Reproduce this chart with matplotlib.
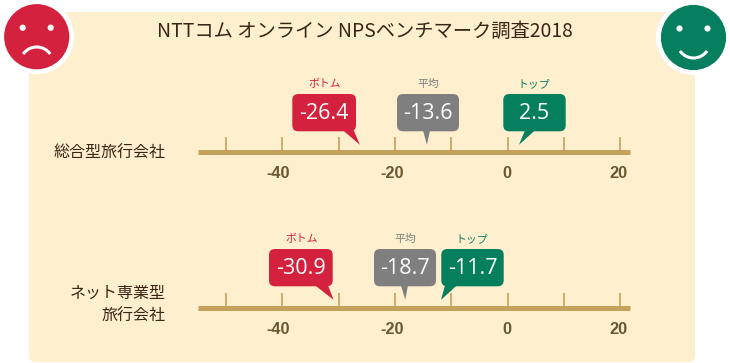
import matplotlib
matplotlib.use('Agg')
import matplotlib.pyplot as plt
from matplotlib.patches import FancyBboxPatch, Polygon, Circle, Arc

plt.rcParams['font.family'] = ['Noto Sans CJK JP', 'DejaVu Sans']

# data
title = 'NTTコム オンライン NPSベンチマーク調査2018'
row_labels = ['総合型旅行会社', 'ネット専業型\n旅行会社']
bubble_names = ['ボトム', '平均', 'トップ']
values_row1 = [-26.4, -13.6, 2.5]
values_row2 = [-30.9, -18.7, -11.7]
tick_values = [-50, -40, -30, -20, -10, 0, 10, 20]
tick_labels = [-40, -20, 0, 20]

# colours
RED = '#D4213D'
GRAY = '#7F7F7F'
GREEN = '#057F5E'
PANEL = '#FEEFCF'
BAR = '#C4A25C'
DARK = '#3C2415'
TICKTXT = '#6B5730'
bubble_colors = [RED, GRAY, GREEN]

# layout, all in pixels of the 730x363 picture
W, H = 730, 363
axis_y = [151.5, 307.7]
box_top = [94, 249]
box_h = 37.3
box_left = [[292.3, 397, 503.3], [269, 374, 441.3]]
box_w = [63.7, 62, 62.4]
tail_base = [[(343, 353.7), (423, 430), (525, 535)],
             [(315, 328), (401, 408), (445, 457)]]
tip_nudge = [[1, -4, -2.6], [0, 3, -0.6]]
name_x = [[325, 428, 534], [301.7, 405, 472]]
tick_label_nudge = [-0.8, -0.5, -0.1, -0.3]

fig = plt.figure(figsize=(W / 100, H / 100), dpi=100)

# pixel layer for panel, faces and bubbles
deco = fig.add_axes([0, 0, 1, 1], zorder=1)
deco.set_xlim(0, W)
deco.set_ylim(H, 0)
deco.axis('off')

# NPS scale: 5.63 px per point, zero at px 507.5
ax = fig.add_axes([0, 0, 1, 1], zorder=2)
ax.set_xlim(-507.5 / 5.63, (W - 507.5) / 5.63)
ax.set_ylim(H, 0)
ax.axis('off')
ax.patch.set_alpha(0)

top = fig.add_axes([0, 0, 1, 1], zorder=3)
top.set_xlim(0, W)
top.set_ylim(H, 0)
top.axis('off')
top.patch.set_alpha(0)

deco.add_patch(FancyBboxPatch((35, 18), 654, 338, boxstyle='round,pad=6,rounding_size=6',
                              fc=PANEL, ec='none'))

# faces
for cx, cy, col in [(36.7, 36.7, RED), (693.5, 37.5, GREEN)]:
    deco.add_patch(Circle((cx, cy), 37.5, fc='white', ec='none', zorder=3))
    deco.add_patch(Circle((cx, cy), 32.6, fc=col, ec='none', zorder=4))
    for dx in (-14, 14):
        deco.add_patch(Circle((cx + dx, cy - 9), 3.1, fc='white', ec='none', zorder=5))
deco.add_patch(Arc((36.7, 63.5), 33, 33, theta1=215, theta2=325, ec='white', lw=2.2, zorder=5))
deco.add_patch(Arc((693.5, 41.5), 33, 33, theta1=35, theta2=145, ec='white', lw=2.2, zorder=5))

deco.text(365, 31, title, ha='center', va='center', fontsize=13.9, color=DARK)

deco.text(166, 153.5, row_labels[0], ha='right', va='center', fontsize=11.5, color=DARK)
deco.text(166, 304.5, row_labels[1], ha='right', va='center', fontsize=11.5, color=DARK,
          linespacing=1.45)

for r, (y, vals) in enumerate(zip(axis_y, [values_row1, values_row2])):
    # number line
    ax.hlines(y, -55.0, 21.7, color=BAR, lw=3.6)
    ax.vlines(tick_values, y - 14.5, y, color=BAR, lw=1.2)
    for t, n in zip(tick_labels, tick_label_nudge):
        ax.text(t + n, y + 21.5, str(t), ha='center', va='center',
                fontsize=11.8, fontweight='bold', color=TICKTXT, family='Liberation Sans')

    # bubbles
    for i, v in enumerate(vals):
        left = box_left[r][i]
        bt = box_top[r]
        col = bubble_colors[i]
        tip_x = top.transData.inverted().transform(ax.transData.transform((v, 0)))[0] + tip_nudge[r][i]
        b0, b1 = tail_base[r][i]
        top.add_patch(Polygon([(b0, bt + box_h - 1), (b1, bt + box_h - 1), (tip_x, bt + box_h + 13.5)],
                              fc=col, ec='none'))
        top.add_patch(FancyBboxPatch((left + 6, bt + 6), box_w[i] - 12, box_h - 12,
                                     boxstyle='round,pad=6,rounding_size=6', fc=col, ec='none'))
        top.text(left + box_w[i] / 2, bt + box_h / 2 + 0.5, f'{v:.1f}', ha='center', va='center',
                 fontsize=15.5, color='white', family='Open Sans')
        top.text(name_x[r][i], bt - 10, bubble_names[i], ha='center', va='center',
                 fontsize=7.8, color=col)

fig.savefig('out.png', dpi=100)
